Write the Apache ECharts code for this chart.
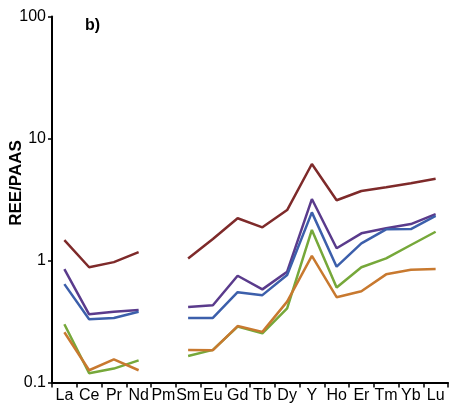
<!DOCTYPE html>
<html><head><meta charset="utf-8">
<script src="https://cdn.jsdelivr.net/npm/echarts@6/dist/echarts.min.js"></script>
<style>html,body{margin:0;padding:0;background:#fff}#c{width:451px;height:406px}</style>
</head><body><div id="c"></div>
<script>
var categories = ['La','Ce','Pr','Nd','Pm','Sm','Eu','Gd','Tb','Dy','Y','Ho','Er','Tm','Yb','Lu'];
var brown  = [1.47,0.88,0.97,1.17,null,1.04,1.50,2.22,1.87,2.59,6.18,3.12,3.71,3.98,4.29,4.68];
var purple = [0.85,0.362,0.38,0.393,null,0.416,0.43,0.75,0.58,0.81,3.19,1.26,1.67,1.84,1.99,2.40];
var blue   = [0.64,0.33,0.338,0.38,null,0.338,0.338,0.55,0.52,0.76,2.48,0.89,1.38,1.80,1.81,2.32];
var green  = [0.30,0.119,0.13,0.152,null,0.165,0.185,0.287,0.253,0.406,1.78,0.60,0.88,1.04,1.34,1.72];
var orange = [0.258,0.126,0.155,0.126,null,0.185,0.184,0.29,0.26,0.46,1.09,0.50,0.56,0.77,0.84,0.85];
var yTicks = [0.1,1,10,100];

var chart = echarts.init(document.getElementById('c'));
function s(data,color){return {type:'line',data:data,symbol:'none',connectNulls:false,lineStyle:{color:color,width:2.5},itemStyle:{color:color},animation:false};}
chart.setOption({
  animation:false,
  grid:{left:52,right:3,top:16.5,bottom:23.5},
  xAxis:{type:'category',data:categories,boundaryGap:true,
    axisLine:{lineStyle:{color:'#000',width:2}},
    axisTick:{show:true,alignWithLabel:false,inside:false,length:5,lineStyle:{color:'#000',width:1.5}},
    axisLabel:{interval:0,color:'#000',fontSize:16,fontFamily:'Liberation Sans, Arial',margin:5}},
  yAxis:{type:'log',logBase:10,min:yTicks[0],max:yTicks[yTicks.length-1],
    axisLine:{show:true,lineStyle:{color:'#000',width:2}},
    axisTick:{show:true,length:4,lineStyle:{color:'#000',width:1.5}},
    minorTick:{show:false},splitLine:{show:false},
    axisLabel:{color:'#000',fontSize:16,fontFamily:'Liberation Sans, Arial',margin:6,
      formatter:function(v){return String(+v.toPrecision(3));}}},
  graphic:[
    {type:'text',left:85,top:18,style:{text:'b)',font:'bold 16px Liberation Sans, Arial',fill:'#000'}},
    {type:'text',x:16,y:183,rotation:Math.PI/2,style:{text:'REE/PAAS',font:'bold 17px Liberation Sans, Arial',fill:'#000',align:'center',verticalAlign:'middle'}}
  ],
  series:[s(brown,'#7e2a2a'),s(purple,'#5a3b8c'),s(blue,'#3c5fab'),s(green,'#76a83a'),s(orange,'#c8792f')]
});
</script></body></html>
